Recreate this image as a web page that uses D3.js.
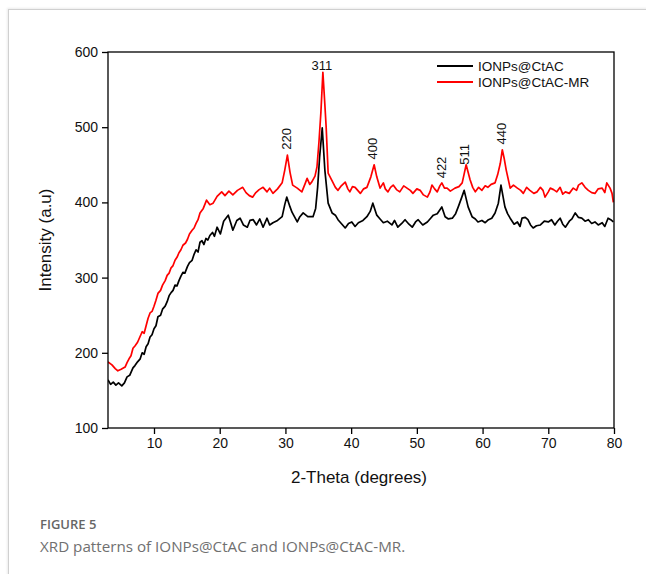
<!DOCTYPE html>
<html>
<head>
<meta charset="utf-8">
<script src="https://cdn.jsdelivr.net/npm/d3@7"></script>
<style>
  body { margin: 0; background: #fff; }
  #frame {
    position: absolute; left: 8px; top: 9px; width: 660px; height: 600px;
    border-top: 1px solid #d0d0d0; border-left: 1px solid #d0d0d0;
    box-shadow: -1px -1px 2px rgba(0,0,0,0.08);
  }
  #vis { position: absolute; left: 0; top: 0; }
  .cap1 { position: absolute; left: 40px; top: 515px; font-family: "Open Sans", sans-serif; font-size: 13px; font-weight: 600; color: #666; }
  .cap2 { position: absolute; left: 40px; top: 536px; font-family: "Open Sans", sans-serif; font-size: 15.2px; color: #707070; font-weight: 400; }
</style>
</head>
<body>
<div id="frame"></div>
<div id="vis"></div>
<div class="cap1">FIGURE 5</div>
<div class="cap2">XRD patterns of IONPs@CtAC and IONPs@CtAC-MR.</div>
<script>
// data: [2-theta, intensity]
const ctac = [
  [3,164],[3.4,158],[3.8,161],[4.2,157],[4.6,160],[5.1,156],[5.5,160],[5.9,168],[6.3,170],[6.8,180],[7.1,183],[7.5,188],[7.9,192],[8.2,200],[8.5,198],[8.8,208],[9.1,212],[9.4,221],[9.7,224],
  [10,232],[10.3,236],[10.6,248],[11,250],[11.3,258],[11.7,262],[12,268],[12.3,276],[12.6,280],[12.9,283],[13.2,290],[13.5,289],[13.8,296],[14.1,302],[14.4,307],[14.7,306],[15.1,315],[15.4,320],[15.8,323],
  [16.1,331],[16.4,337],[16.7,334],[17,347],[17.3,349],[17.6,344],[17.9,352],[18.2,350],[18.5,356],[18.9,360],[19.2,355],[19.6,367],[20.1,358],[20.6,375],[21.3,383],[21.7,372],
  [22,363],[22.6,376],[23.1,379],[23.6,370],[24.2,367],[24.6,376],[25.1,377],[25.6,370],[26.1,378],[26.6,367],
  [27.2,379],[27.6,370],[28.1,373],[28.8,376],[29.5,381],[29.9,397],[30.2,407],[30.7,394],[31,387],[31.8,374],
  [32.2,381],[32.7,386],[33.4,381],[34.2,381],[34.6,392],[34.9,420],[35.2,460],[35.6,499],[36,443],[36.5,399],
  [37.1,386],[37.6,383],[38,377],[38.5,372],[39.1,366],[39.6,372],[40.1,374],[40.6,368],[41.1,373],[41.8,376],
  [42.4,381],[42.9,388],[43.3,399],[43.9,383],[44.4,378],[44.9,373],[45.5,375],[46.2,370],[46.6,376],[47.1,367],
  [47.7,372],[48.2,377],[48.8,371],[49.3,367],[49.8,374],[50.2,377],[50.9,370],[51.6,374],[52.1,379],[52.5,383],
  [53.1,385],[53.8,394],[54.3,381],[54.8,378],[55.4,379],[55.9,385],[56.3,394],[56.8,406],[57.2,416],[57.8,394],
  [58.4,381],[58.9,378],[59.3,374],[59.9,376],[60.4,373],[60.9,377],[61.4,379],[61.9,386],[62.4,399],[62.8,423],
  [63.4,394],[63.8,385],[64.2,379],[64.8,371],[65.3,374],[65.7,368],[66,379],[66.5,380],[66.9,377],[67.3,370],
  [67.7,366],[68.2,369],[68.8,370],[69.4,375],[70,374],[70.5,377],[71,370],[71.4,375],[71.8,379],[72.2,371],
  [72.6,367],[73.2,375],[73.6,378],[74.1,386],[74.6,380],[75.1,379],[75.6,375],[76.1,377],[76.6,372],[77.1,374],
  [77.6,370],[78.2,373],[78.6,368],[79.1,379],[79.5,377],[79.9,374]
];

const ctacMR = [
  [3,188],[3.6,184],[4.1,179],[4.5,176],[5,178],[5.6,181],[5.9,187],[6.2,192],[6.5,196],[6.8,206],[7.1,209],[7.5,214],[7.8,220],[8.2,228],[8.5,226],[8.8,236],[9.1,246],
  [9.4,253],[9.7,255],[10,262],[10.3,270],[10.6,279],[11,283],[11.3,290],[11.7,296],[12,303],[12.3,306],[12.6,313],[12.9,316],[13.2,323],[13.5,327],[13.8,333],[14.1,337],[14.4,343],[14.8,346],[15.1,351],
  [15.4,358],[15.8,363],[16.1,366],[16.4,372],[16.7,377],[17,386],[17.5,392],[18,403],[18.5,397],[19,399],[19.6,408],[20.3,414],[20.8,409],
  [21.4,415],[22,410],[22.7,416],[23.5,420],[24,413],[24.5,409],[25,407],[25.5,413],[26,417],[26.6,420],
  [27.2,414],[27.6,419],[28.1,412],[28.8,418],[29.5,426],[29.9,443],[30.3,463],[30.7,440],[31.1,423],[31.8,419],
  [32.5,414],[33,425],[33.3,432],[33.7,424],[34,427],[34.5,435],[34.8,447],[35.1,480],[35.4,520],[35.7,573],
  [36,530],[36.2,500],[36.5,439],[37.2,427],[37.6,420],[38,416],[38.5,422],[39.1,427],[39.5,418],[39.8,414],
  [40.2,421],[40.6,420],[41,416],[41.4,412],[41.9,418],[42.4,420],[43,434],[43.5,450],[43.9,434],[44.4,419],
  [44.9,426],[45.2,418],[45.6,414],[46,420],[46.4,423],[46.9,417],[47.4,414],[48,422],[48.5,419],[49,416],
  [49.4,412],[50,418],[50.5,416],[51,410],[51.6,407],[52,414],[52.3,423],[52.7,418],[53.1,414],[53.5,422],
  [53.8,426],[54.2,419],[54.6,419],[55.1,415],[55.8,419],[56.4,421],[56.9,426],[57.2,438],[57.5,450],[58.1,430],
  [58.5,420],[58.9,414],[59.4,420],[59.9,416],[60.4,422],[60.8,420],[61.3,424],[61.9,426],[62.3,437],[62.7,452],
  [63,470],[63.3,458],[63.6,443],[64.2,419],[64.7,423],[65.3,419],[65.8,416],[66.2,412],[66.7,420],[67.2,416],
  [67.8,412],[68.3,414],[68.8,420],[69.2,416],[69.5,407],[70,414],[70.3,419],[70.8,417],[71.3,414],[71.8,420],
  [72.2,411],[72.6,414],[73.2,412],[73.8,419],[74.3,416],[74.6,423],[75.1,426],[75.6,420],[76.1,416],[76.6,413],
  [77.1,412],[77.6,418],[78.2,419],[78.6,413],[78.9,426],[79.4,419],[79.7,412],[79.9,400]
];

const xTicks = [10, 20, 30, 40, 50, 60, 70, 80];
const yTicks = [100, 200, 300, 400, 500, 600];

// hkl peak labels: [label, 2-theta, intensity at label foot]
const peaks = [
  ["220", 30.3, 470],
  ["311", 35.7, 0],
  ["400", 43.4, 457],
  ["422", 53.9, 432],
  ["511", 57.4, 450],
  ["440", 62.9, 477]
];

const seriesNames = ["IONPs@CtAC", "IONPs@CtAC-MR"];
const seriesColors = ["#000000", "#ff0000"];

(function () {
  const width = 646, height = 574;
  const left = 108, right = 614, top = 52, bottom = 428;
  const font = "Liberation Sans, Arial, sans-serif";

  const svg = d3.select("#vis").append("svg")
    .attr("width", width)
    .attr("height", height);

  const x = d3.scaleLinear().domain([3, 80]).range([left, right]);
  const y = d3.scaleLinear().domain([100, 600]).range([bottom, top]);

  const line = d3.line().x(d => x(d[0])).y(d => y(d[1]));

  svg.append("clipPath").attr("id", "plotclip")
    .append("rect").attr("x", left).attr("y", top - 2).attr("width", right - left).attr("height", bottom - top + 2);

  const plot = svg.append("g").attr("clip-path", "url(#plotclip)");

  [ctac, ctacMR].forEach((s, i) => {
    plot.append("path")
      .datum(s)
      .attr("fill", "none")
      .attr("stroke", seriesColors[i])
      .attr("stroke-width", 1.7)
      .attr("stroke-linejoin", "round")
      .attr("d", line);
  });

  // axes
  const xAxis = svg.append("g")
    .attr("transform", `translate(0,${bottom})`)
    .call(d3.axisBottom(x).tickValues(xTicks).tickSize(6).tickPadding(4));
  const yAxis = svg.append("g")
    .attr("transform", `translate(${left},0)`)
    .call(d3.axisLeft(y).tickValues(yTicks).tickSize(6).tickPadding(4));

  [xAxis, yAxis].forEach(a => {
    a.select(".domain").remove();
    a.selectAll("line").attr("stroke", "#000").attr("stroke-width", 1.3);
    a.selectAll("text").attr("font-family", font).attr("font-size", 14).attr("fill", "#111");
  });

  // frame
  svg.append("rect")
    .attr("x", left).attr("y", top)
    .attr("width", right - left).attr("height", bottom - top)
    .attr("fill", "none").attr("stroke", "#000").attr("stroke-width", 1.3);

  // axis titles
  svg.append("text")
    .attr("x", (left + right) / 2 - 2).attr("y", 483)
    .attr("text-anchor", "middle")
    .attr("font-family", font).attr("font-size", 17).attr("fill", "#111")
    .text("2-Theta (degrees)");

  svg.append("text")
    .attr("transform", `translate(51,${(top + bottom) / 2}) rotate(-90)`)
    .attr("text-anchor", "middle")
    .attr("font-family", font).attr("font-size", 17).attr("fill", "#111")
    .text("Intensity (a.u)");

  // peak labels
  peaks.forEach(p => {
    if (p[0] === "311") {
      svg.append("text")
        .attr("x", x(p[1]) - 1).attr("y", 70)
        .attr("text-anchor", "middle")
        .attr("font-family", font).attr("font-size", 13).attr("fill", "#111")
        .text(p[0]);
    } else {
      svg.append("text")
        .attr("transform", `translate(${x(p[1]) + 4},${y(p[2])}) rotate(-90)`)
        .attr("font-family", font).attr("font-size", 13).attr("fill", "#111")
        .text(p[0]);
    }
  });

  // legend
  const legend = svg.append("g").attr("transform", "translate(437,66)");
  seriesNames.forEach((n, i) => {
    const g = legend.append("g").attr("transform", `translate(0,${i * 16})`);
    g.append("line").attr("x1", 0).attr("x2", 36)
      .attr("stroke", seriesColors[i]).attr("stroke-width", 1.8);
    g.append("text").attr("x", 41).attr("y", 5)
      .attr("font-family", font).attr("font-size", 13.5).attr("fill", "#111")
      .text(n);
  });
})();
</script>
</body>
</html>
